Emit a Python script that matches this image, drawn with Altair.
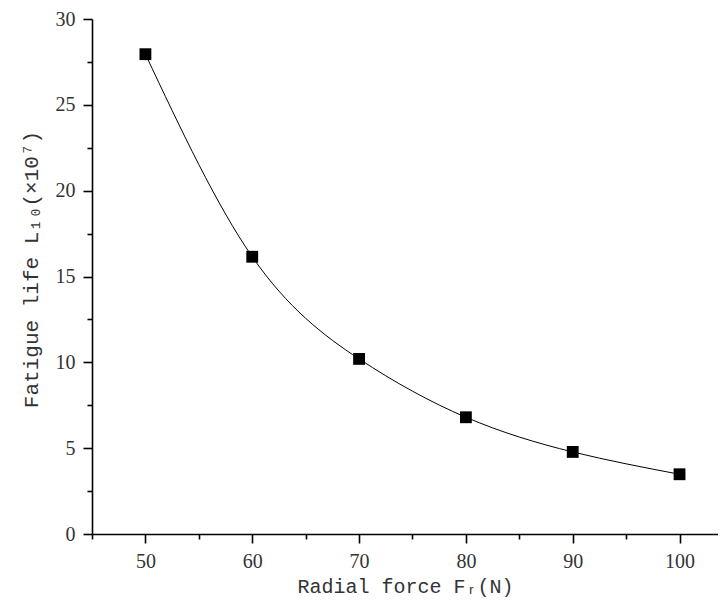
import altair as alt
import pandas as pd

force = [50, 60, 70, 80, 90, 100]
life = [27.95, 16.15, 10.2, 6.8, 4.78, 3.48]

df = pd.DataFrame({"force": force, "life": life})

x_vals = [45, 50, 55, 60, 65, 70, 75, 80, 85, 90, 95, 100]
y_vals = [0, 2.5, 5, 7.5, 10, 12.5, 15, 17.5, 20, 22.5, 25, 27.5, 30]

x_scale = alt.Scale(domain=[45, 103.6], nice=False, zero=False)
y_scale = alt.Scale(domain=[0, 30], nice=False)

x_axis = alt.Axis(
    title="Radial force Fᵣ(N)",
    values=x_vals,
    labelExpr="datum.value % 10 == 0 ? datum.label : ''",
    tickSize={"condition": {"test": "datum.value % 10 != 0", "value": 5}, "value": 9},
    grid=False,
    domainColor="black", domainWidth=1.6,
    tickColor="black", tickWidth=1.6,
    labelFont="Liberation Serif", labelFontSize=20, labelColor="#333",
    labelPadding=8,
    titleFont="Liberation Mono", titleFontSize=20, titleFontWeight="normal",
    titleColor="#333", titlePadding=5,
)
y_axis = alt.Axis(
    title="Fatigue life L₁₀(×10⁷)",
    values=y_vals,
    labelExpr="datum.value % 5 == 0 ? datum.label : ''",
    tickSize={"condition": {"test": "datum.value % 5 != 0", "value": 5}, "value": 9},
    grid=False,
    domainColor="black", domainWidth=1.6,
    tickColor="black", tickWidth=1.6,
    labelFont="Liberation Serif", labelFontSize=20, labelColor="#333",
    labelPadding=8,
    titleFont="Liberation Mono", titleFontSize=21, titleFontWeight="normal",
    titleColor="#333", titlePadding=14, titleY=250,
)

base = alt.Chart(df)
line = base.mark_line(color="black", strokeWidth=1, interpolate="natural").encode(
    x=alt.X("force:Q", scale=x_scale, axis=x_axis),
    y=alt.Y("life:Q", scale=y_scale, axis=y_axis),
)
pts = base.mark_square(color="black", size=140, opacity=1).encode(
    x=alt.X("force:Q", scale=x_scale),
    y=alt.Y("life:Q", scale=y_scale),
)

chart = alt.layer(line, pts).properties(
    width=626, height=515,
    background="white",
    autosize=alt.AutoSizeParams(type="none"),
    padding={"left": 84, "top": 11, "right": 0, "bottom": 70},
).configure_view(strokeWidth=0, stroke="transparent")

chart.save("out.html", embed_options={"renderer": "svg", "actions": False})
